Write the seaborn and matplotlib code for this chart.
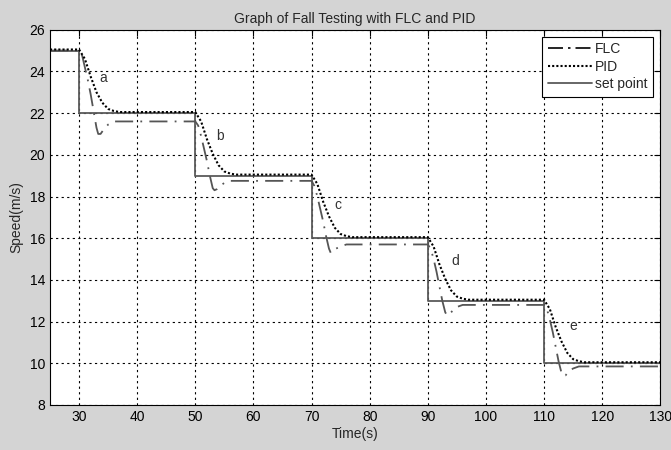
import matplotlib
matplotlib.use("Agg")
import matplotlib.pyplot as plt
from matplotlib.lines import Line2D
import seaborn as sns
import pandas as pd

# ---- data ----
setpoint_t = [25, 30, 30, 50, 50, 70, 70, 90, 90, 110, 110, 130]
setpoint_v = [25, 25, 22, 22, 19, 19, 16, 16, 13, 13, 10, 10]

flc_t = [25, 30, 30.5, 31, 31.5, 32, 32.5, 33, 33.3, 33.7, 34.2, 35, 36,
         50, 50.5, 51, 51.5, 52, 52.5, 53, 53.3, 53.7, 54.2, 55, 56,
         70, 70.5, 71, 71.5, 72, 72.5, 73, 73.3, 73.7, 74.2, 75, 76,
         90, 90.5, 91, 91.5, 92, 92.5, 93, 93.3, 93.7, 94.2, 95, 96,
         110, 110.5, 111, 111.5, 112, 112.5, 113, 113.3, 113.7, 114.2, 115, 116, 130]
flc_v = [25.0, 25.0, 24.8, 24.2, 23.6, 22.9, 22.1, 21.3, 21.0, 21.0, 21.2, 21.45, 21.6,
         21.6, 21.4, 20.9, 20.3, 19.7, 19.0, 18.4, 18.3, 18.35, 18.5, 18.65, 18.75,
         18.75, 18.5, 18.0, 17.4, 16.8, 16.1, 15.5, 15.3, 15.35, 15.5, 15.6, 15.7,
         15.7, 15.5, 15.0, 14.4, 13.7, 13.0, 12.45, 12.3, 12.35, 12.5, 12.7, 12.8,
         12.8, 12.6, 12.1, 11.5, 10.8, 10.1, 9.55, 9.4, 9.42, 9.6, 9.75, 9.85, 9.85]

pid_t = [25, 30, 31, 32, 33, 34, 35, 36, 37,
         50, 51, 52, 53, 54, 55, 56, 57,
         70, 71, 72, 73, 74, 75, 76, 77,
         90, 91, 92, 93, 94, 95, 96, 97,
         110, 111, 112, 113, 114, 115, 116, 117, 130]
pid_v = [25.05, 25.05, 24.6, 23.75, 23.0, 22.5, 22.2, 22.1, 22.05,
         22.05, 21.6, 20.75, 20.05, 19.5, 19.2, 19.1, 19.05,
         19.05, 18.6, 17.75, 17.05, 16.5, 16.2, 16.1, 16.05,
         16.05, 15.6, 14.75, 14.05, 13.5, 13.2, 13.1, 13.05,
         13.05, 12.6, 11.75, 11.05, 10.5, 10.2, 10.1, 10.05, 10.05]

labels_txt = ["a", "b", "c", "d", "e"]
labels_x = [34.2, 54.3, 74.6, 94.7, 115.0]
labels_y = [23.7, 20.9, 17.6, 14.9, 11.8]

x_ticks = [30, 40, 50, 60, 70, 80, 90, 100, 110, 120, 130]
y_ticks = [8, 10, 12, 14, 16, 18, 20, 22, 24, 26]

# ---- style ----
sns.set_style("white")
plt.rcParams["font.family"] = ["Liberation Sans", "DejaVu Sans"]
plt.rcParams["font.size"] = 10

fig = plt.figure(figsize=(6.71, 4.5), dpi=100, facecolor="#d4d4d4")
ax = fig.add_axes([0.0745, 0.1, 0.9095, 0.834])
ax.set_facecolor("white")

flc_color = "#555555"
sp_color = "#5a5a5a"

df_sp = pd.DataFrame({"t": setpoint_t, "v": setpoint_v})
df_flc = pd.DataFrame({"t": flc_t, "v": flc_v})
df_pid = pd.DataFrame({"t": pid_t, "v": pid_v})

sns.lineplot(data=df_sp, x="t", y="v", sort=False, estimator=None, ax=ax,
             color=sp_color, linewidth=1.3)
sns.lineplot(data=df_flc, x="t", y="v", sort=False, estimator=None, ax=ax,
             color=flc_color, linewidth=1.3, dashes=False)
ax.lines[-1].set_dashes([10, 4, 1, 4])
sns.lineplot(data=df_pid, x="t", y="v", sort=False, estimator=None, ax=ax,
             color="black", linewidth=1.5)
ax.lines[-1].set_linestyle((0, (1, 1)))

for s, x, y in zip(labels_txt, labels_x, labels_y):
    ax.text(x, y, s, fontsize=10, color="#333333", ha="center", va="center")

ax.set_xlim(25, 130)
ax.set_ylim(8, 26)
ax.set_xticks(x_ticks)
ax.set_yticks(y_ticks)
ax.grid(True, color="black", linestyle=(0, (2, 3)), linewidth=0.8)
ax.tick_params(direction="in", top=True, right=True, length=4, width=0.8,
               labelsize=10, colors="black")
for sp in ax.spines.values():
    sp.set_color("black")
    sp.set_linewidth(0.8)

ax.set_xlabel("Time(s)", fontsize=10, labelpad=2)
ax.set_ylabel("Speed(m/s)", fontsize=10, labelpad=4)
ax.set_title("Graph of Fall Testing with FLC and PID", fontsize=10, pad=5)

handles = [
    Line2D([], [], color="black", linewidth=1.2, dashes=[9, 3, 1.5, 3]),
    Line2D([], [], color="black", linewidth=1.5, linestyle=(0, (1, 1))),
    Line2D([], [], color=sp_color, linewidth=1.3),
]
leg = ax.legend(handles, ["FLC", "PID", "set point"], loc="upper right",
                fontsize=10, frameon=True, fancybox=False, framealpha=1,
                edgecolor="black", handlelength=3.2, handletextpad=0.2,
                borderaxespad=0.5, labelspacing=0.25, borderpad=0.4)
leg.get_frame().set_linewidth(0.8)

fig.savefig("out.png", dpi=100, facecolor=fig.get_facecolor())
